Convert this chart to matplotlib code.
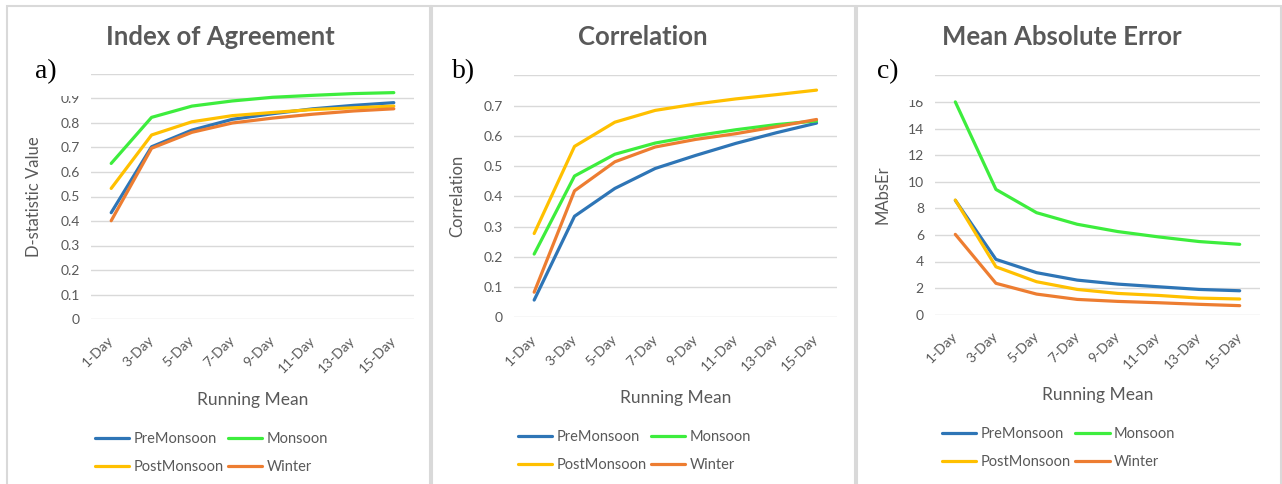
import matplotlib
matplotlib.use("Agg")
import matplotlib.pyplot as plt
from matplotlib.patches import Rectangle

W, H = 1282, 484

days = ['1-Day', '3-Day', '5-Day', '7-Day', '9-Day', '11-Day', '13-Day', '15-Day']
seasons = ['PreMonsoon', 'Monsoon', 'PostMonsoon', 'Winter']
colors = ['#2e75b6', '#3ded3d', '#ffc000', '#ed7d31']

# index of agreement (d-statistic)
ioa_pre = [0.434, 0.703, 0.771, 0.815, 0.838, 0.858, 0.872, 0.883]
ioa_mon = [0.635, 0.823, 0.869, 0.890, 0.905, 0.913, 0.920, 0.924]
ioa_post = [0.533, 0.751, 0.805, 0.830, 0.843, 0.855, 0.862, 0.869]
ioa_win = [0.401, 0.697, 0.762, 0.800, 0.820, 0.836, 0.849, 0.858]

# correlation
cor_pre = [0.057, 0.334, 0.426, 0.492, 0.535, 0.575, 0.610, 0.642]
cor_mon = [0.209, 0.467, 0.539, 0.576, 0.600, 0.620, 0.637, 0.649]
cor_post = [0.277, 0.565, 0.645, 0.684, 0.705, 0.722, 0.736, 0.751]
cor_win = [0.083, 0.418, 0.514, 0.563, 0.588, 0.607, 0.630, 0.654]

# mean absolute error
mae_pre = [8.60, 4.16, 3.16, 2.60, 2.30, 2.10, 1.90, 1.80]
mae_mon = [16.0, 9.42, 7.67, 6.80, 6.25, 5.85, 5.50, 5.29]
mae_post = [8.62, 3.60, 2.48, 1.90, 1.60, 1.45, 1.25, 1.18]
mae_win = [6.04, 2.36, 1.55, 1.15, 1.00, 0.90, 0.78, 0.68]

plt.rcParams['font.family'] = ['Lato', 'DejaVu Sans']
grey_txt = '#595959'
grid_c = '#d9d9d9'


def frac(x0, y0, x1, y1):
    return [x0 / W, 1 - y1 / H, (x1 - x0) / W, (y1 - y0) / H]


fig = plt.figure(figsize=(W / 100, H / 100), dpi=100)

# panel frames
for x0, x1 in [(7, 430), (432, 855), (857, 1281)]:
    fig.patches.append(Rectangle((x0 / W, -0.05), (x1 - x0) / W, 1 - 6 / H + 0.05,
                                 transform=fig.transFigure, fill=False,
                                 edgecolor=grid_c, lw=1.5))

panels = [
    dict(box=(91, 74, 414, 319), title='Index of Agreement', tag='a)', tx=35,
         ylabel='D-statistic Value', ylim=(0, 1), step=0.1,
         data=[ioa_pre, ioa_mon, ioa_post, ioa_win], ylx=-0.152, mask=(20, 88, 96),
         leg=(0.012, -0.461), tcx=220),
    dict(box=(514, 75.3, 836.7, 317.3), title='Correlation', tag='b)', tx=452,
         ylabel='Correlation', ylim=(0, 0.8), step=0.1,
         data=[cor_pre, cor_mon, cor_post, cor_win], ylx=-0.152, mask=(445, 511, 95),
         leg=(0.012, -0.466), tcx=643),
    dict(box=(935, 75.3, 1260, 314.7), title='Mean Absolute Error', tag='c)', tx=877,
         ylabel='MAbsEr', ylim=(0, 18), step=2,
         data=[mae_pre, mae_mon, mae_post, mae_win], ylx=-0.138, mask=(870, 932, 99.5),
         leg=(0.022, -0.469), tcx=1062),
]

for p in panels:
    x0, y0, x1, y1 = p['box']
    ax = fig.add_axes(frac(x0, y0, x1, y1))
    xs = range(len(days))
    lines = []
    for vals, c, name in zip(p['data'], colors, seasons):
        ln, = ax.plot(xs, vals, color=c, lw=2.3, label=name,
                      solid_capstyle='round', solid_joinstyle='round')
        lines.append(ln)
    lo, hi = p['ylim']
    ax.set_ylim(lo, hi)
    ax.set_xlim(-0.5, len(days) - 0.5)
    n = int(round((hi - lo) / p['step']))
    ticks = [lo + i * p['step'] for i in range(n + 1)]
    ax.set_yticks(ticks)
    if p['step'] < 1:
        ax.set_yticklabels(['0'] + ['%.1f' % t for t in ticks[1:]])
    ax.set_xticks(list(xs))
    ax.set_xticklabels(days, rotation=45, ha='right', va='center',
                       rotation_mode='anchor')
    ax.tick_params(axis='both', length=0, labelsize=10, labelcolor=grey_txt)
    ax.tick_params(axis='x', pad=14)
    ax.tick_params(axis='y', pad=8)
    for s in ax.spines.values():
        s.set_visible(False)
    ax.grid(axis='y', color=grid_c, lw=1)
    ax.set_axisbelow(True)
    ax.set_ylabel(p['ylabel'], fontsize=12, color=grey_txt)
    ax.yaxis.set_label_coords(p['ylx'], 0.5)
    ax.set_xlabel('Running Mean', fontsize=12.5, color=grey_txt)
    ax.xaxis.set_label_coords(0.5, -0.30)
    order = [0, 2, 1, 3]
    ax.legend([lines[i] for i in order], [seasons[i] for i in order], ncol=2,
              loc='upper left', bbox_to_anchor=p['leg'], frameon=False,
              fontsize=10.5, labelcolor=grey_txt, handlelength=2.35,
              handletextpad=0.3, columnspacing=0.3, labelspacing=0.95,
              borderpad=0, borderaxespad=0)

    # white label box over the top of the value axis
    mx0, mx1, mby = p['mask']
    fig.patches.append(Rectangle((mx0 / W, 1 - mby / H), (mx1 - mx0) / W, (mby - 42) / H,
                                 transform=fig.transFigure, facecolor='white',
                                 edgecolor='none', zorder=5))
    fig.text(p['tx'] / W, 1 - 78 / H, p['tag'], family='Liberation Serif',
             fontsize=20, color='black', va='baseline', ha='left', zorder=6)
    fig.text(p['tcx'] / W, 1 - 37 / H, p['title'], fontsize=18.5, fontweight='bold',
             color=grey_txt, ha='center', va='center')

fig.savefig('out.png', dpi=100, facecolor='white')
